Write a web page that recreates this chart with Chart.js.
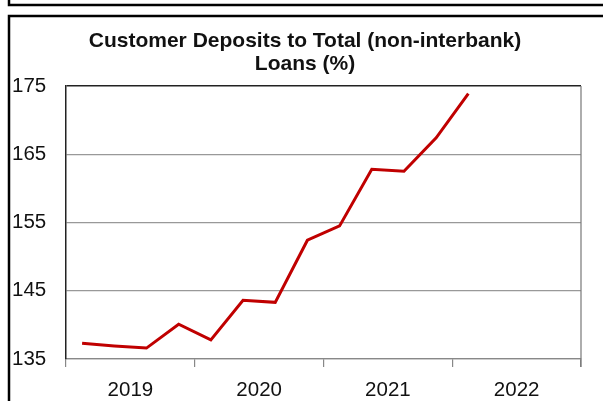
<!DOCTYPE html>
<html>
<head>
<meta charset="utf-8">
<script src="https://cdn.jsdelivr.net/npm/chart.js@4.4.1/dist/chart.umd.min.js"></script>
<style>
  html, body { margin: 0; padding: 0; background: #fff; }
  #wrap { width: 603px; height: 401px; position: relative; }
</style>
</head>
<body>
<div id="wrap"><canvas id="deposits-chart"></canvas></div>
<script>
// Quarterly ratio, 2019 Q1 .. 2022 Q1
const quarters = [
  '2019 Q1', '2019 Q2', '2019 Q3', '2019 Q4',
  '2020 Q1', '2020 Q2', '2020 Q3', '2020 Q4',
  '2021 Q1', '2021 Q2', '2021 Q3', '2021 Q4',
  '2022 Q1', '2022 Q2', '2022 Q3', '2022 Q4',
];
const years = ['2019', '2020', '2021', '2022'];
const depositRatio = [137.3, 136.9, 136.6, 140.1, 137.8, 143.6, 143.3, 152.4, 154.5, 162.8, 162.5, 167.4, 173.9];
const yTicks = [135, 145, 155, 165, 175];
const titleLines = ['Customer Deposits to Total (non-interbank)', 'Loans (%)'];

const FONT = "'Liberation Sans', Arial, sans-serif";

// Panel frame, two-line heading and the right edge of the plot box
const framePlugin = {
  id: 'frame',
  beforeDraw(chart) {
    const { ctx, width, height } = chart;
    ctx.save();
    ctx.fillStyle = '#fff';
    ctx.fillRect(0, 0, width, height);
    ctx.strokeStyle = '#000';
    ctx.lineWidth = 2.5;
    ctx.beginPath();
    ctx.moveTo(9, 0);
    ctx.lineTo(9, 5);
    ctx.lineTo(width, 5);
    ctx.moveTo(width, 16);
    ctx.lineTo(9, 16);
    ctx.lineTo(9, height);
    ctx.stroke();

    ctx.fillStyle = '#111';
    ctx.font = `bold 21px ${FONT}`;
    ctx.textAlign = 'center';
    ctx.textBaseline = 'alphabetic';
    ctx.fillText(titleLines[0], 305, 47);
    ctx.fillText(titleLines[1], 305, 70);
    ctx.restore();
  },
  afterDraw(chart) {
    const { ctx, chartArea } = chart;
    ctx.save();
    ctx.strokeStyle = '#777';
    ctx.lineWidth = 1.2;
    ctx.beginPath();
    ctx.moveTo(chartArea.right, chartArea.top);
    ctx.lineTo(chartArea.right, chartArea.bottom + 8);
    ctx.stroke();
    ctx.restore();
  },
};

const ctx = document.getElementById('deposits-chart');
new Chart(ctx, {
  type: 'line',
  data: {
    labels: quarters,
    datasets: [{
      data: depositRatio,
      xAxisID: 'x',
      borderColor: '#C00000',
      borderWidth: 3,
      tension: 0,
      pointRadius: 0,
      fill: false,
    }],
  },
  options: {
    responsive: true,
    maintainAspectRatio: false,
    animation: false,
    layout: {
      padding: { top: 86, left: 12, right: 22, bottom: 0 },
    },
    scales: {
      x: {
        type: 'category',
        display: false,
        offset: true,
      },
      years: {
        type: 'category',
        position: 'bottom',
        labels: years,
        offset: true,
        afterFit: (scale) => { scale.height = 42; },
        grid: {
          offset: true,
          drawOnChartArea: false,
          drawTicks: true,
          tickLength: 8,
          color: '#888',
          lineWidth: 1.2,
        },
        border: { color: '#888', width: 1.2 },
        ticks: {
          color: '#111',
          padding: 11,
          font: { family: FONT, size: 20.5 },
          maxRotation: 0,
        },
      },
      y: {
        min: 135,
        max: 175,
        afterFit: (scale) => { scale.width = 54; },
        afterBuildTicks: (scale) => { scale.ticks = yTicks.map(v => ({ value: v })); },
        grid: {
          drawTicks: false,
          color: (c) => (c.tick && c.tick.value === 175 ? '#222' : '#999'),
          lineWidth: (c) => (c.tick && c.tick.value === 175 ? 1.5 : 1.2),
        },
        border: { color: '#222', width: 1.5 },
        ticks: {
          color: '#111',
          crossAlign: 'far',
          font: { family: FONT, size: 20.5 },
        },
      },
    },
    plugins: {
      legend: { display: false },
      tooltip: { enabled: false },
      title: { display: false },
    },
  },
  plugins: [framePlugin],
});
</script>
</body>
</html>
